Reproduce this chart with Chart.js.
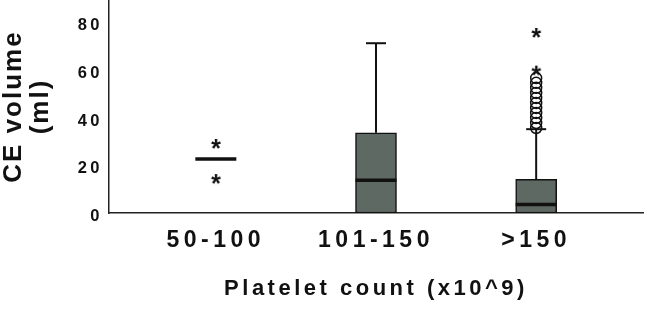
<!DOCTYPE html>
<html>
<head>
<meta charset="utf-8">
<script src="https://cdn.jsdelivr.net/npm/chart.js@4.4.1/dist/chart.umd.min.js"></script>
<style>
  html, body { margin: 0; padding: 0; background: #ffffff; }
  canvas { display: block; }
</style>
</head>
<body>
<canvas id="c" width="646" height="310"></canvas>
<script>
// ---------------- data ----------------
const categories   = ['50-100', '101-150', '>150'];
const q1           = [22.6, 0, 0];
const q3           = [22.6, 33.6, 14.1];
const medians      = [22.6, 13.7, 3.6];
const whiskerLow   = [22.6, 0, 0];
const whiskerHigh  = [22.6, 71.1, 35.1];
const outliers     = [[], [], [35.6, 37.7, 39.8, 41.9, 44.0, 46.1, 48.2, 50.3, 52.4, 54.5, 56.5]];
const extremes     = [[28.9, 14.2], [], [59.6, 75.4]];
const yTickValues  = [0, 20, 40, 60, 80];
const yTitle       = ['CE volume', '(ml)'];
const xTitle       = 'Platelet count (x10^9)';

// ---------------- styles ----------------
const FAMILY = '"Liberation Sans", Arial, sans-serif';
const BOX_FILL = '#5f6963';
const INK = '#111111';
const BOX_W = 41;
const CAP_W = 20;
const LETTER_SPACING = { 16.5: 3.5, 23: 4.5, 22: 3.5, 26: 2 };

const canvas = document.getElementById('c');
const c2d = canvas.getContext('2d');
function spacingFor(font) {
  const m = /([\d.]+)px/.exec(font);
  const sz = m ? parseFloat(m[1]) : 0;
  return LETTER_SPACING[sz] || 0;
}
const origFill = c2d.fillText, origMeasure = c2d.measureText;
c2d.fillText = function () { this.letterSpacing = spacingFor(this.font) + 'px'; return origFill.apply(this, arguments); };
c2d.measureText = function () { this.letterSpacing = spacingFor(this.font) + 'px'; return origMeasure.apply(this, arguments); };

// asterisk point style
function makeStar() {
  const s = document.createElement('canvas');
  s.width = 16; s.height = 16;
  const g = s.getContext('2d');
  g.font = 'bold 25px ' + FAMILY;
  g.fillStyle = INK;
  g.textAlign = 'center';
  g.textBaseline = 'alphabetic';
  const m = g.measureText('*');
  const asc = m.actualBoundingBoxAscent, desc = m.actualBoundingBoxDescent;
  const baseY = 8 + (asc - desc) / 2;
  g.fillText('*', 8, baseY);
  return s;
}
const starImg = makeStar();

const boxParts = {
  id: 'boxParts',
  afterDatasetsDraw(chart) {
    const ctx = chart.ctx;
    const xs = chart.scales.x, ys = chart.scales.y;
    ctx.save();
    ctx.strokeStyle = INK;
    categories.forEach((c, i) => {
      const x = xs.getPixelForValue(i + 1);
      const yTop = ys.getPixelForValue(whiskerHigh[i]);
      const yQ3 = ys.getPixelForValue(q3[i]);
      const yLow = ys.getPixelForValue(whiskerLow[i]);
      const yQ1 = ys.getPixelForValue(q1[i]);
      ctx.lineWidth = 2;
      if (whiskerHigh[i] > q3[i]) {
        ctx.beginPath(); ctx.moveTo(x, yQ3); ctx.lineTo(x, yTop); ctx.stroke();
        ctx.beginPath(); ctx.moveTo(x - CAP_W / 2, yTop); ctx.lineTo(x + CAP_W / 2, yTop); ctx.stroke();
      }
      if (whiskerLow[i] < q1[i]) {
        ctx.beginPath(); ctx.moveTo(x, yQ1); ctx.lineTo(x, yLow); ctx.stroke();
        ctx.beginPath(); ctx.moveTo(x - CAP_W / 2, yLow); ctx.lineTo(x + CAP_W / 2, yLow); ctx.stroke();
      }
      const yMed = ys.getPixelForValue(medians[i]);
      ctx.lineWidth = 3.5;
      ctx.beginPath(); ctx.moveTo(x - BOX_W / 2, yMed); ctx.lineTo(x + BOX_W / 2, yMed); ctx.stroke();
    });
    ctx.restore();
  }
};

const boxData = categories.map((c, i) => ({ x: i + 1, y: [q1[i], q3[i]] })).filter(d => d.y[1] > d.y[0]);
const circleData = [];
outliers.forEach((arr, i) => arr.forEach(v => circleData.push({ x: i + 1, y: v })));
const starData = [];
extremes.forEach((arr, i) => arr.forEach(v => starData.push({ x: i + 1, y: v })));

function noPad(s) { s.paddingTop = 0; s.paddingBottom = 0; s.paddingLeft = 0; s.paddingRight = 0; }

new Chart(canvas, {
  type: 'bar',
  data: {
    datasets: [
      {
        type: 'bar',
        data: boxData,
        backgroundColor: BOX_FILL,
        borderColor: INK,
        borderWidth: 1.5,
        borderSkipped: false,
        barThickness: BOX_W
      },
      {
        type: 'scatter',
        data: circleData,
        pointStyle: 'circle',
        pointRadius: 5.5,
        pointBorderWidth: 1.5,
        pointBorderColor: INK,
        pointBackgroundColor: 'rgba(0,0,0,0)'
      },
      {
        type: 'scatter',
        data: starData,
        pointStyle: starImg,
        pointRadius: 8
      }
    ]
  },
  options: {
    responsive: false,
    animation: false,
    devicePixelRatio: 1,
    layout: { autoPadding: false, padding: { top: 0, right: 3, bottom: 0, left: 0 } },
    plugins: { legend: { display: false }, tooltip: { enabled: false } },
    scales: {
      x: {
        type: 'linear',
        min: 0.333,
        max: 3.667,
        offset: false,
        grid: { display: false, drawTicks: false },
        border: { display: true, color: '#222', width: 1.5 },
        afterBuildTicks: (s) => { s.ticks = categories.map((c, i) => ({ value: i + 1 })); },
        afterFit: (s) => { s.height = 97; noPad(s); },
        ticks: {
          autoSkip: false,
          maxRotation: 0,
          padding: 14,
          color: INK,
          font: { family: FAMILY, size: 23, weight: 'bold' },
          callback: (v) => categories[Math.round(v) - 1]
        },
        title: {
          display: true,
          text: xTitle,
          color: INK,
          font: { family: FAMILY, size: 22, weight: 'bold', lineHeight: 1.2 },
          padding: { top: 0, bottom: 8 }
        }
      },
      y: {
        type: 'linear',
        min: 0,
        max: 89.2,
        grid: { display: false, drawTicks: false },
        border: { display: true, color: '#222', width: 1.5 },
        afterBuildTicks: (s) => { s.ticks = yTickValues.map(v => ({ value: v })); },
        afterFit: (s) => { s.width = 109; noPad(s); },
        ticks: {
          padding: 6,
          labelOffset: 3.5,
          color: INK,
          font: { family: FAMILY, size: 16.5, weight: 'bold' }
        },
        title: {
          display: true,
          text: yTitle,
          color: INK,
          font: { family: FAMILY, size: 26, weight: 'bold', lineHeight: 1.04 },
          padding: { top: 0, bottom: 0 }
        }
      }
    }
  },
  plugins: [boxParts]
});
</script>
</body>
</html>
